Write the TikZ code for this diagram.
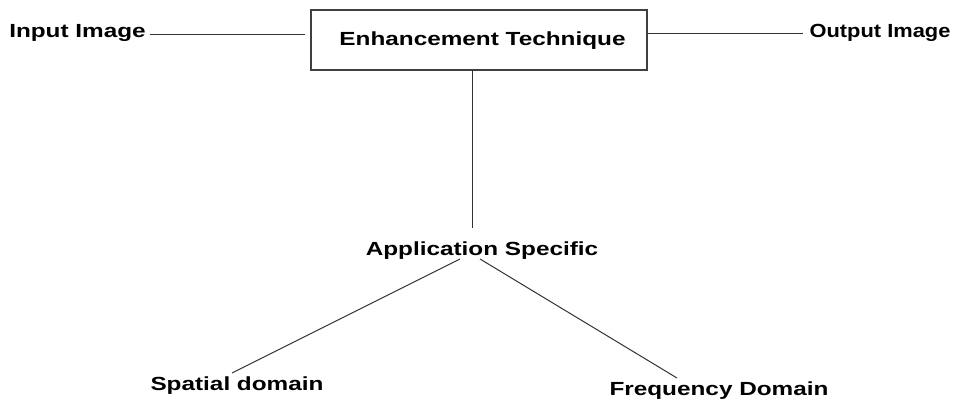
\documentclass[tikz,border=0pt]{standalone}
\usepackage{fontspec}
\newfontfamily\lblfont{Liberation Sans}[FakeStretch=1.28]
\newfontfamily\lblnarrow{Liberation Sans}[FakeStretch=1.15]
\begin{document}
\begin{tikzpicture}[x=1pt,y=-1pt,
  lbl/.style={inner sep=0pt, anchor=base, font=\lblfont\bfseries\fontsize{19}{22}\selectfont},
  lblN/.style={lbl, font=\lblnarrow\bfseries\fontsize{19}{22}\selectfont},
  wire/.style={draw=black!80, line width=1pt},
  frame/.style={draw=black!75, line width=1.5pt, minimum width=336pt, minimum height=60pt, inner sep=0pt}]
  \useasboundingbox (0,0) rectangle (966,399);

  % main processing block
  \node[frame] (box) at (479,40) {};
  \node[lbl] (tech) at (482.5,45) {Enhancement Technique};

  % inputs, outputs and branches
  \node[lbl] (in) at (77.5,37) {Input Image};
  \node[lblN] (out) at (880,37) {Output Image};
  \node[lbl] (app) at (482,255) {Application Specific};
  \node[lbl] (spat) at (237,390) {Spatial domain};
  \node[lbl] (freq) at (719,395) {Frequency Domain};

  % connector end points
  \coordinate (inA) at (150,34);
  \coordinate (inB) at (305,34);
  \coordinate (outA) at (box.east |- 0,33);
  \coordinate (outB) at (803,33);
  \coordinate (vTop) at (472,70);
  \coordinate (vBot) at (472,228);
  \coordinate (splitL) at (460,259);
  \coordinate (splitR) at (480,259);
  \coordinate (spatTop) at (232,373);
  \coordinate (freqTop) at (677,378);

  \draw[wire] (inA) -- (inB);
  \draw[wire] (outA) -- (outB);
  \draw[wire] (vTop) -- (vBot);
  \draw[wire] (splitL) -- (spatTop);
  \draw[wire] (splitR) -- (freqTop);
\end{tikzpicture}
\end{document}
